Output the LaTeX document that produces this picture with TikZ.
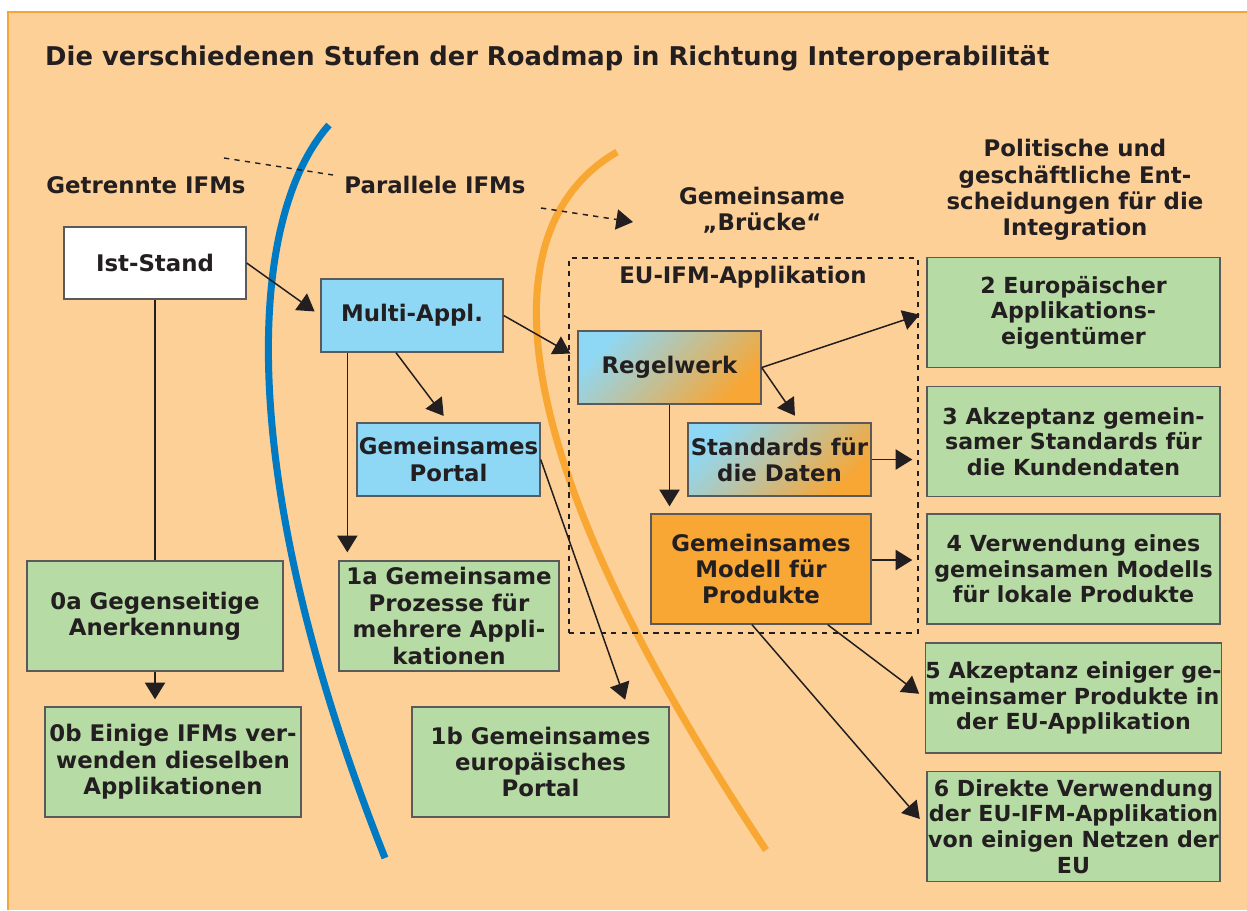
\documentclass[tikz,border=0pt]{standalone}
\usepackage{fontspec}
\setmainfont{DejaVu Sans}
\usetikzlibrary{arrows.meta}

\definecolor{peach}{RGB}{253,208,152}
\definecolor{peachline}{RGB}{245,166,58}
\definecolor{curveblue}{RGB}{0,122,194}
\definecolor{curveorange}{RGB}{248,168,50}
\definecolor{lightblue}{RGB}{142,216,246}
\definecolor{greenfill}{RGB}{183,219,164}
\definecolor{orangefill}{RGB}{248,166,52}
\definecolor{boxline}{RGB}{90,90,90}
\definecolor{ink}{RGB}{35,31,32}

\tikzset{
  box/.style={draw=boxline, line width=0.8pt, align=center, inner sep=1pt},
  greenbox/.style={box, fill=greenfill, minimum height=2.2cm, inner sep=0pt},
  rightbox/.style={greenbox, minimum width=5.86cm, font=\bfseries\fontsize{12.6}{14.6}\selectfont},
  bluebox/.style={box, fill=lightblue, minimum width=3.64cm, minimum height=1.46cm},
  mixbox/.style={box, left color=lightblue, right color=orangefill, shading angle=45,
    minimum width=3.66cm, minimum height=1.46cm},
  arr/.style={-{Triangle[length=9.5pt,width=11.5pt]}, line width=0.85pt, draw=ink},
  label/.style={align=center},
}

\begin{document}
\begin{tikzpicture}[x=0.02cm, y=-0.02cm, text=ink,
  every node/.style={font=\bfseries\fontsize{13}{15}\selectfont}]
\useasboundingbox (0,0) rectangle (1247,910);
\fill[peach] (8,12) rectangle (1247,910);
\draw[peachline, line width=1.2pt] (8,910) -- (8,12) -- (1247,12);

% the two borders between the stages
\draw[curveblue, line width=4pt] (329,125) .. controls (245,220) and (235,480) .. (385,858);
\draw[curveorange, line width=4pt] (617,152) .. controls (500,220) and (480,420) .. (766,850);

\node[anchor=west, font=\bfseries\fontsize{14.7}{17}\selectfont] (title) at (39,58) {Die verschiedenen Stufen der Roadmap in Richtung Interoperabilität};

\node[label] (getrennt) at (146,185) {Getrennte IFMs};
\node[label] (parallel) at (435,185) {Parallele IFMs};
\node[label] (bruecke) at (762,210) {Gemeinsame\\„Brücke“};
\node[label] (politik) at (1075,190) {Politische und\\geschäftliche Ent-\\scheidungen für die\\Integration};

\coordinate (d1) at (224,158);
\coordinate (d2) at (333,175);
\coordinate (d3) at (541,208);
\coordinate (d4) at (633,222);
\draw[dashed, line width=0.8pt, ink] (d1) -- (d2);
\draw[arr, dashed] (d3) -- (d4);

% EU-IFM-Applikation
\node[draw=ink, dashed, line width=0.8pt, minimum width=6.98cm, minimum height=7.5cm] (euapp) at (743.5,445.5) {};
\node[label] (eulabel) at (743,277) {EU-IFM-Applikation};

\node[box, fill=white, minimum width=3.64cm, minimum height=1.44cm] (ist) at (155,263) {Ist-Stand};
\node[bluebox] (multi) at (412,315.5) {Multi-Appl.};
\node[bluebox, minimum width=3.66cm] (portal) at (448.5,459.5) {Gemeinsames\\Portal};
\node[mixbox] (regel) at (669.5,367.5) {Regelwerk};
\node[mixbox] (std) at (779.5,459.5) {Standards für\\die Daten};
\node[box, fill=orangefill, minimum width=4.4cm, minimum height=2.2cm] (modell) at (761,569) {Gemeinsames\\Modell für\\Produkte};

\node[greenbox, minimum width=5.12cm] (g0a) at (155,616) {0a Gegenseitige\\Anerkennung};
\node[greenbox, minimum width=5.12cm] (g0b) at (173,762) {0b Einige IFMs ver-\\wenden dieselben\\Applikationen};
\node[greenbox, minimum width=4.4cm] (g1a) at (449,616) {1a Gemeinsame\\Prozesse für\\mehrere Appli-\\kationen};
\node[greenbox, minimum width=5.14cm] (g1b) at (540.5,762) {1b Gemeinsames\\europäisches\\Portal};

\node[rightbox] (g2) at (1073.5,312.5) {2 Europäischer\\Applikations-\\eigentümer};
\node[rightbox] (g3) at (1073.5,441.5) {3 Akzeptanz gemein-\\samer Standards für\\die Kundendaten};
\node[rightbox] (g4) at (1073.5,569) {4 Verwendung eines\\gemeinsamen Modells\\für lokale Produkte};
\node[rightbox] (g5) at (1073.5,698) {5 Akzeptanz einiger ge-\\meinsamer Produkte in\\der EU-Applikation};
\node[rightbox] (g6) at (1073.5,826.5) {6 Direkte Verwendung\\der EU-IFM-Applikation\\von einigen Netzen der\\EU};

\draw[line width=0.85pt, ink] (ist.south) -- (g0a.north);
\draw[arr, shorten >=0.14cm] (g0a.south) -- (g0a.south |- g0b.north);
\draw[arr, shorten >=0.14cm] (ist.east) -- (multi.west);
\draw[arr, shorten >=0.16cm] ([xshift=0.54cm]multi.south west) -- ([xshift=0.54cm]multi.south west |- g1a.north);
\draw[arr, shorten >=0.16cm] ([xshift=-0.32cm]multi.south) -- (portal.north);
\draw[arr, shorten >=0.16cm] (multi.east) -- ([yshift=0.2cm]regel.west);
\draw[arr, shorten >=0.14cm] (portal.east) -- ([xshift=1.74cm]g1b.north);

\draw[arr, shorten >=0.14cm] (regel.east) -- (g2.west);
\draw[arr, shorten >=0.16cm] (regel.east) -- ([xshift=0.4cm]std.north);
\draw[arr, shorten >=0.14cm] (regel.south) -- (regel.south |- modell.north);
\draw[arr, shorten >=0.28cm] (std.east) -- (std.east -| g3.west);
\draw[arr, shorten >=0.28cm] ([yshift=0.18cm]modell.east) -- ([yshift=0.18cm]modell.east -| g4.west);
\draw[arr, shorten >=0.14cm] ([xshift=-0.88cm]modell.south east) -- (g5.west);
\draw[arr, shorten >=0.2cm] ([xshift=-0.18cm]modell.south) -- (g6.west);

\end{tikzpicture}
\end{document}
